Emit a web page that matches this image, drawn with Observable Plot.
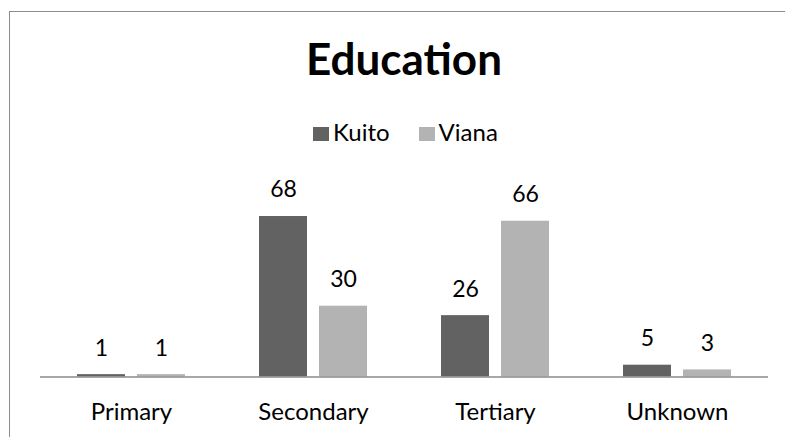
<!DOCTYPE html>
<html>
<head>
<meta charset="utf-8">
<script src="https://cdn.jsdelivr.net/npm/d3@7"></script>
<script src="https://cdn.jsdelivr.net/npm/@observablehq/plot@0.6"></script>
<style>
  html, body { margin: 0; padding: 0; background: #fff; }
  #wrap { position: relative; width: 785px; height: 437px; overflow: hidden; font-family: Lato, "Open Sans", sans-serif; }
  #frame { position: absolute; left: 9px; top: 11px; width: 900px; height: 600px; border: 1.5px solid #8c8c8c; box-sizing: border-box; }
  #title { position: absolute; left: 0; width: 808px; top: 36px; text-align: center; font-weight: 700; font-size: 44px; color: #000; line-height: 1; }
  #legend { position: absolute; left: 313px; top: 120px; display: flex; font-size: 24px; color: #000; line-height: 1; white-space: nowrap; }
  .item { display: flex; align-items: center; margin-right: 29px; }
  .sw { width: 16px; height: 14px; margin-right: 4px; position: relative; top: 2px; }
  #chart { position: absolute; left: 0; top: 160px; }
</style>
</head>
<body>
<div id="wrap">
  <div id="frame"></div>
  <div id="title">Education</div>
  <div id="legend"></div>
  <div id="chart"></div>
</div>
<script>
const categories = ["Primary", "Secondary", "Tertiary", "Unknown"];
const seriesNames = ["Kuito", "Viana"];
const kuitoValues = [1, 68, 26, 5];
const vianaValues = [1, 30, 66, 3];
const seriesColors = ["#626262", "#b3b3b3"];

const data = [];
categories.forEach((c, i) => {
  data.push({category: c, series: seriesNames[0], value: kuitoValues[i]});
  data.push({category: c, series: seriesNames[1], value: vianaValues[i]});
});

const legend = document.getElementById("legend");
seriesNames.forEach((s, i) => {
  const it = document.createElement("div");
  it.className = "item";
  const sw = document.createElement("span");
  sw.className = "sw";
  sw.style.background = seriesColors[i];
  const t = document.createElement("span");
  t.textContent = s;
  it.appendChild(sw); it.appendChild(t);
  legend.appendChild(it);
});

const chart = Plot.plot({
  width: 785,
  height: 277,
  marginLeft: 39,
  marginRight: 17,
  marginTop: 27.7,
  marginBottom: 60.5,
  style: {fontFamily: "Lato, 'Open Sans', sans-serif", fontSize: "24px", color: "#000", background: "transparent"},
  fx: {domain: categories, paddingInner: 0, paddingOuter: 0, label: null, axis: "bottom", tickSize: 0, tickPadding: 26},
  x: {domain: seriesNames, paddingInner: 0.198, paddingOuter: 0.605, axis: null},
  y: {domain: [0, 80], axis: null},
  color: {domain: seriesNames, range: seriesColors},
  marks: [
    Plot.barY(data, {fx: "category", x: "series", y: "value", fill: "series"}),
    Plot.ruleY([0], {stroke: "#8a8a8a", strokeWidth: 1.3}),
    Plot.text(data, {fx: "category", x: "series", y: "value", text: d => String(d.value), dy: -26.4, fontSize: 23, fill: "#000"})
  ]
});
document.getElementById("chart").appendChild(chart);
</script>
</body>
</html>
